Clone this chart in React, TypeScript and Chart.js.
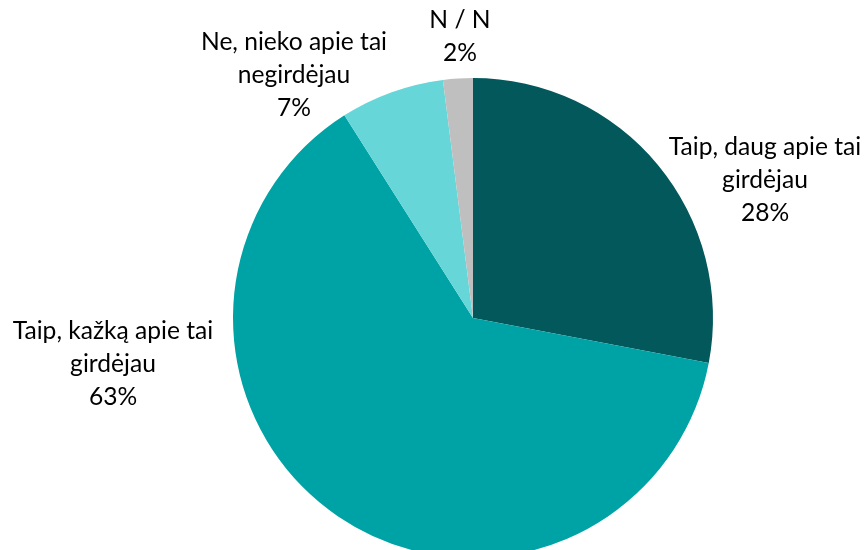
import React, { useEffect, useRef } from "react";
import { Chart, registerables } from "chart.js";

Chart.register(...registerables);

const categories = [
  ["Taip, daug apie tai", "girdėjau"],
  ["Taip, kažką apie tai", "girdėjau"],
  ["Ne, nieko apie tai", "negirdėjau"],
  ["N / N"],
];
const values = [28, 63, 7, 2];
const colors = ["#02585B", "#00A3A5", "#66D6D9", "#BFBFBF"];

// label anchor (center of the text block) for each slice
const labelPos = [
  { x: 765, y: 180 },
  { x: 113, y: 364 },
  { x: 294, y: 75 },
  { x: 460, y: 37 },
];

const FONT = "24.6px Lato, 'Open Sans', sans-serif";
const LINE_H = 33;

const labelPlugin = {
  id: "pieLabels",
  afterDatasetsDraw(chart: any) {
    const ctx = chart.ctx;
    ctx.save();
    ctx.font = FONT;
    ctx.fillStyle = "#000";
    ctx.textAlign = "center";
    ctx.textBaseline = "middle";
    const meta = chart.getDatasetMeta(0);
    meta.data.forEach((_arc: any, i: number) => {
      const lines = [...categories[i], values[i] + "%"];
      const p = labelPos[i];
      const startY = p.y - ((lines.length - 1) * LINE_H) / 2;
      lines.forEach((t, j) => ctx.fillText(t, p.x, startY + j * LINE_H));
    });
    ctx.restore();
  },
};

export default function App() {
  const ref = useRef<HTMLCanvasElement>(null);
  useEffect(() => {
    if (!ref.current) return;
    const chart = new Chart(ref.current, {
      type: "pie",
      data: {
        labels: categories.map((c) => c.join(" ")),
        datasets: [
          {
            data: values,
            backgroundColor: colors,
            borderWidth: 0,
            clip: false as any,
          },
        ],
      },
      options: {
        responsive: false,
        animation: false,
        radius: 240,
        layout: { padding: { left: 79, right: 0, top: 86, bottom: 0 } },
        plugins: {
          legend: { display: false },
          tooltip: { enabled: false },
        },
      } as any,
      plugins: [labelPlugin],
    });
    return () => chart.destroy();
  }, []);
  return (
    <div style={{ position: "absolute", left: 0, top: 0, width: 867, height: 550, background: "#fff" }}>
      <canvas ref={ref} width={867} height={550} style={{ width: 867, height: 550 }} />
    </div>
  );
}
